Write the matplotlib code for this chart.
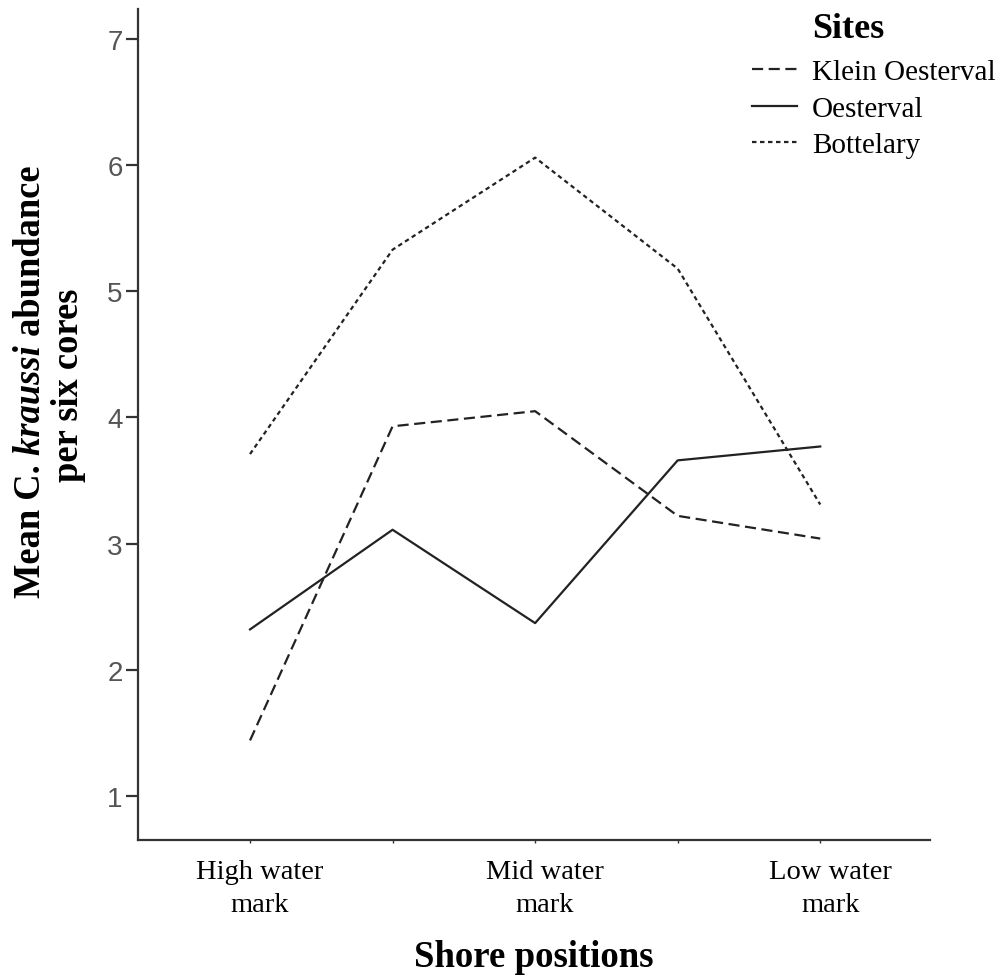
import matplotlib.pyplot as plt
import matplotlib.transforms as mtransforms

# shore positions sampled along the transect (labels on every other one)
positions = [0, 1, 2, 3, 4]
position_labels = ["High water\nmark", "", "Mid water\nmark", "", "Low water\nmark"]

# mean C. kraussi per six cores at each site
klein_oesterval = [1.44, 3.93, 4.05, 3.22, 3.04]
oesterval = [2.32, 3.11, 2.37, 3.66, 3.77]
bottelary = [3.71, 5.33, 6.06, 5.18, 3.31]

serif = "Liberation Serif"
line_color = "#222222"

fig = plt.figure(figsize=(9.97, 9.79), dpi=100)
ax = fig.add_axes([0.1384, 0.141, 0.7944, 0.8488])

ax.plot(positions, klein_oesterval, color=line_color, lw=1.6,
        dashes=(5, 2.5), label="Klein Oesterval")
ax.plot(positions, oesterval, color=line_color, lw=1.6,
        label="Oesterval")
ax.plot(positions, bottelary, color=line_color, lw=1.6,
        dashes=(2, 1.6), label="Bottelary")

ax.set_xlim(-0.786, 4.77)
ax.set_ylim(0.651, 7.238)

for side in ["top", "right"]:
    ax.spines[side].set_visible(False)
for side in ["left", "bottom"]:
    ax.spines[side].set_linewidth(1.6)
    ax.spines[side].set_color("#333333")

ax.set_yticks([1, 2, 3, 4, 5, 6, 7])
ax.tick_params(axis="y", length=9, width=1.6, color="#333333",
               labelsize=20, labelcolor="#555555", pad=2)
for lbl in ax.get_yticklabels():
    lbl.set_family("Liberation Sans")

ax.set_xticks(positions)
ax.set_xticklabels(position_labels, family=serif, fontsize=20.5,
                   linespacing=1.4)
ax.tick_params(axis="x", length=2, width=1, color="#333333", pad=12)
shift = mtransforms.ScaledTranslation(0.10, 0, fig.dpi_scale_trans)
for lbl in ax.get_xticklabels():
    lbl.set_transform(lbl.get_transform() + shift)

ax.set_xlabel("Shore positions", family=serif, fontsize=26.5,
              fontweight="bold", labelpad=16)

# y label: first line built from pieces so the species name is bold italic
ylab = dict(family=serif, fontsize=26.3, fontweight="bold", rotation=90,
            rotation_mode="anchor", ha="left", va="center")
part1 = fig.text(30 / 997, 1 - 598 / 979, "Mean C.", **ylab)
part2 = ax.annotate(" kraussi", xy=(0.5, 1), xycoords=part1,
                    style="italic", annotation_clip=False, **ylab)
part3 = ax.annotate(" abundance", xy=(0.5, 1), xycoords=part2,
                    annotation_clip=False, **ylab)
fig.text(68 / 997, 1 - 385 / 979, "per six cores", family=serif,
         fontsize=26.3, fontweight="bold", rotation=90,
         ha="center", va="center")

leg = ax.legend(loc="upper left", bbox_to_anchor=(752 / 997, 1 - 60 / 979),
                bbox_transform=fig.transFigure, borderaxespad=0, borderpad=0,
                frameon=False, prop={"family": serif, "size": 21},
                handlelength=1.55, handletextpad=0.5, labelspacing=0.34)
fig.text(812 / 997, 1 - 30 / 979, "Sites", family=serif, fontsize=26,
         fontweight="bold", va="center", ha="left")

fig.savefig("out.png", dpi=100)
